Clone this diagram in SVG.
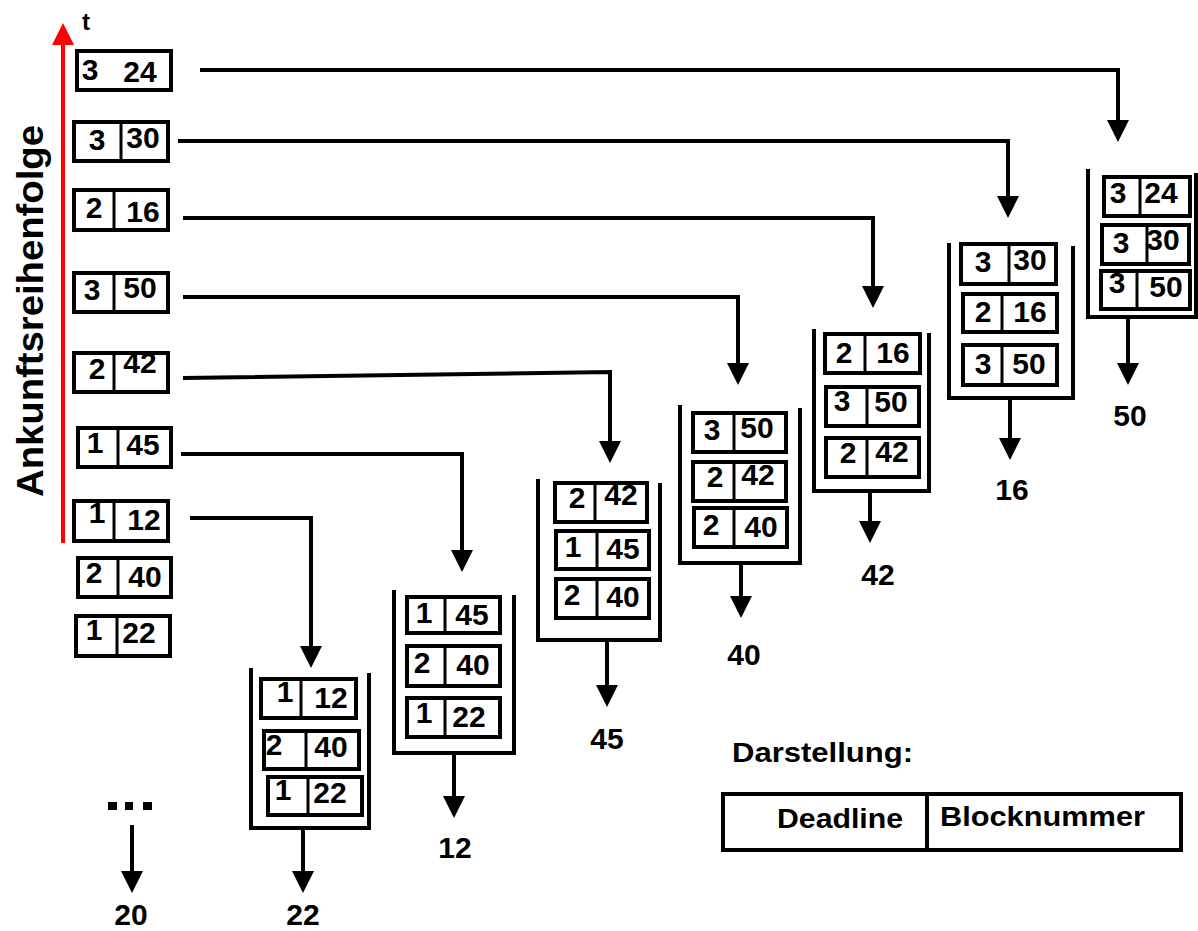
<svg xmlns="http://www.w3.org/2000/svg" width="1198" height="931" viewBox="0 0 1198 931">
  <style>
    .box { fill: #fff; stroke: #000; stroke-width: 4; }
    .sep { stroke: #000; stroke-width: 3; }
    .num { font-family: "Liberation Sans", Arial, sans-serif; font-weight: bold; font-size: 30px; text-anchor: middle; fill: #000; }
    .lbl { font-family: "Liberation Sans", Arial, sans-serif; font-weight: bold; font-size: 28px; fill: #000; }
    .arrow { fill: none; stroke: #000; stroke-width: 4; marker-end: url(#head); }
    .queue { fill: none; stroke: #000; stroke-width: 4; }
  </style>
  <defs>
    <marker id="head" markerUnits="userSpaceOnUse" markerWidth="24" markerHeight="24" refX="10" refY="11" orient="auto">
      <path d="M0,0 L22,11 L0,22 z" fill="#000"/>
    </marker>
    <marker id="headRed" markerUnits="userSpaceOnUse" markerWidth="24" markerHeight="24" refX="10" refY="11" orient="auto">
      <path d="M0,0 L22,11 L0,22 z" fill="#f00"/>
    </marker>
  </defs>

  <rect width="1198" height="931" fill="#fff"/>

  <!-- time axis -->
  <g id="axis">
    <line x1="63" y1="543" x2="63" y2="35" stroke="#f00" stroke-width="4" marker-end="url(#headRed)"/>
    <text class="lbl" x="82" y="30" style="font-size:24px">t</text>
    <text class="lbl" transform="translate(43,311) rotate(-90)" text-anchor="middle" style="font-size:37px" textLength="372" lengthAdjust="spacingAndGlyphs">Ankunftsreihenfolge</text>
  </g>

  <!-- arriving requests -->
  <g id="req-3-24">
    <rect class="box" x="77" y="51" width="94" height="39"/>
    <text class="num" x="90" y="80">3</text><text class="num" x="140" y="82">24</text>
  </g>
  <g id="req-3-30">
    <rect class="box" x="74" y="122" width="94" height="39"/><line class="sep" x1="121" y1="122" x2="121" y2="161"/>
    <text class="num" x="97" y="150">3</text><text class="num" x="143" y="148">30</text>
  </g>
  <g id="req-2-16">
    <rect class="box" x="74" y="190" width="94" height="40"/><line class="sep" x1="114" y1="190" x2="114" y2="230"/>
    <text class="num" x="94" y="218">2</text><text class="num" x="143" y="222">16</text>
  </g>
  <g id="req-3-50">
    <rect class="box" x="74" y="273" width="94" height="39"/><line class="sep" x1="114" y1="273" x2="114" y2="312"/>
    <text class="num" x="92" y="300">3</text><text class="num" x="140" y="298">50</text>
  </g>
  <g id="req-2-42">
    <rect class="box" x="74" y="353" width="94" height="39"/><line class="sep" x1="114" y1="353" x2="114" y2="392"/>
    <text class="num" x="97" y="379">2</text><text class="num" x="140" y="373">42</text>
  </g>
  <g id="req-1-45">
    <rect class="box" x="78" y="428" width="93" height="39"/><line class="sep" x1="118" y1="428" x2="118" y2="467"/>
    <text class="num" x="95" y="453">1</text><text class="num" x="143" y="455">45</text>
  </g>
  <g id="req-1-12">
    <rect class="box" x="74" y="501" width="94" height="40"/><line class="sep" x1="114" y1="501" x2="114" y2="541"/>
    <text class="num" x="97" y="523">1</text><text class="num" x="144" y="530">12</text>
  </g>
  <g id="req-2-40">
    <rect class="box" x="78" y="558" width="93" height="39"/><line class="sep" x1="118" y1="558" x2="118" y2="597"/>
    <text class="num" x="94" y="583">2</text><text class="num" x="145" y="587">40</text>
  </g>
  <g id="req-1-22">
    <rect class="box" x="76" y="616" width="94" height="40"/><line class="sep" x1="117" y1="616" x2="117" y2="656"/>
    <text class="num" x="94" y="640">1</text><text class="num" x="139" y="643">22</text>
  </g>

  <!-- queue snapshots -->
  <g id="queue-1">
    <path class="queue" d="M251,668 V828 H369 V673"/>
    <rect class="box" x="261" y="679" width="95" height="39"/><line class="sep" x1="301" y1="679" x2="301" y2="718"/>
    <text class="num" x="285" y="702">1</text><text class="num" x="331" y="708">12</text>
    <rect class="box" x="264" y="731" width="95" height="38"/><line class="sep" x1="306" y1="731" x2="306" y2="769"/>
    <text class="num" x="274" y="755">2</text><text class="num" x="331" y="757">40</text>
    <rect class="box" x="268" y="777" width="94" height="38"/><line class="sep" x1="308" y1="777" x2="308" y2="815"/>
    <text class="num" x="283" y="800">1</text><text class="num" x="330" y="803">22</text>
  </g>
  <g id="queue-2">
    <path class="queue" d="M394,590 V753 H514 V595"/>
    <rect class="box" x="407" y="597" width="93" height="36"/><line class="sep" x1="445" y1="597" x2="445" y2="633"/>
    <text class="num" x="424" y="623">1</text><text class="num" x="472" y="625">45</text>
    <rect class="box" x="407" y="646" width="93" height="40"/><line class="sep" x1="445" y1="646" x2="445" y2="686"/>
    <text class="num" x="422" y="673">2</text><text class="num" x="473" y="675">40</text>
    <rect class="box" x="407" y="698" width="93" height="39"/><line class="sep" x1="445" y1="698" x2="445" y2="737"/>
    <text class="num" x="424" y="723">1</text><text class="num" x="469" y="727">22</text>
  </g>
  <g id="queue-3">
    <path class="queue" d="M538,479 V640 H660 V483"/>
    <rect class="box" x="555" y="483" width="92" height="39"/><line class="sep" x1="595" y1="483" x2="595" y2="522"/>
    <text class="num" x="577" y="508">2</text><text class="num" x="621" y="505">42</text>
    <rect class="box" x="556" y="531" width="93" height="38"/><line class="sep" x1="597" y1="531" x2="597" y2="569"/>
    <text class="num" x="573" y="557">1</text><text class="num" x="623" y="559">45</text>
    <rect class="box" x="556" y="579" width="93" height="39"/><line class="sep" x1="597" y1="579" x2="597" y2="618"/>
    <text class="num" x="572" y="605">2</text><text class="num" x="623" y="607">40</text>
  </g>
  <g id="queue-4">
    <path class="queue" d="M680,405 V563 H800 V408"/>
    <rect class="box" x="693" y="413" width="93" height="39"/><line class="sep" x1="734" y1="413" x2="734" y2="452"/>
    <text class="num" x="712" y="440">3</text><text class="num" x="757" y="438">50</text>
    <rect class="box" x="693" y="462" width="93" height="39"/><line class="sep" x1="734" y1="462" x2="734" y2="501"/>
    <text class="num" x="715" y="487">2</text><text class="num" x="758" y="485">42</text>
    <rect class="box" x="694" y="508" width="93" height="39"/><line class="sep" x1="734" y1="508" x2="734" y2="547"/>
    <text class="num" x="711" y="535">2</text><text class="num" x="761" y="537">40</text>
  </g>
  <g id="queue-5">
    <path class="queue" d="M814,329 V491 H929 V333"/>
    <rect class="box" x="825" y="334" width="95" height="39"/><line class="sep" x1="865" y1="334" x2="865" y2="373"/>
    <text class="num" x="844" y="363">2</text><text class="num" x="893" y="363">16</text>
    <rect class="box" x="826" y="387" width="93" height="39"/><line class="sep" x1="867" y1="387" x2="867" y2="426"/>
    <text class="num" x="842" y="411">3</text><text class="num" x="891" y="412">50</text>
    <rect class="box" x="826" y="438" width="93" height="39"/><line class="sep" x1="867" y1="438" x2="867" y2="477"/>
    <text class="num" x="848" y="463">2</text><text class="num" x="892" y="462">42</text>
  </g>
  <g id="queue-6">
    <path class="queue" d="M949,243 V398 H1073 V246"/>
    <rect class="box" x="961" y="244" width="95" height="40"/><line class="sep" x1="1009" y1="244" x2="1009" y2="284"/>
    <text class="num" x="983" y="272">3</text><text class="num" x="1030" y="270">30</text>
    <rect class="box" x="963" y="294" width="94" height="38"/><line class="sep" x1="1002" y1="294" x2="1002" y2="332"/>
    <text class="num" x="983" y="322">2</text><text class="num" x="1030" y="322">16</text>
    <rect class="box" x="963" y="345" width="94" height="40"/><line class="sep" x1="1002" y1="345" x2="1002" y2="385"/>
    <text class="num" x="983" y="374">3</text><text class="num" x="1029" y="374">50</text>
  </g>
  <g id="queue-7">
    <path class="queue" d="M1088,169 V317 H1196 V173"/>
    <rect class="box" x="1104" y="177" width="86" height="39"/><line class="sep" x1="1140" y1="177" x2="1140" y2="216"/>
    <text class="num" x="1118" y="203">3</text><text class="num" x="1161" y="203">24</text>
    <rect class="box" x="1102" y="225" width="87" height="39"/><line class="sep" x1="1147" y1="225" x2="1147" y2="264"/>
    <text class="num" x="1121" y="253">3</text><text class="num" x="1163" y="250">30</text>
    <rect class="box" x="1101" y="271" width="89" height="38"/><line class="sep" x1="1137" y1="271" x2="1137" y2="309"/>
    <text class="num" x="1117" y="293">3</text><text class="num" x="1166" y="297">50</text>
  </g>

  <!-- served blocks -->
  <g id="served">
    <rect x="108" y="802" width="9" height="8" fill="#000"/>
    <rect x="125" y="802" width="8" height="8" fill="#000"/>
    <rect x="143" y="802" width="9" height="8" fill="#000"/>
    <text class="num" x="131" y="925">20</text>
    <text class="num" x="303" y="925">22</text>
    <text class="num" x="455" y="858">12</text>
    <text class="num" x="607" y="749">45</text>
    <text class="num" x="744" y="665">40</text>
    <text class="num" x="878" y="585">42</text>
    <text class="num" x="1012" y="500">16</text>
    <text class="num" x="1130" y="426">50</text>
  </g>

  <!-- connectors -->
  <g id="connectors">
    <path class="arrow" d="M200,70 H1118 V130"/>
    <path class="arrow" d="M178,141 H1008 V206"/>
    <path class="arrow" d="M183,218 H873 V296"/>
    <path class="arrow" d="M183,297 H738 V373"/>
    <path class="arrow" d="M183,378 L610,372 V451"/>
    <path class="arrow" d="M181,454 H462 V560"/>
    <path class="arrow" d="M190,518 H311 V656"/>
    <path class="arrow" d="M132,825 V881"/>
    <path class="arrow" d="M303,828 V881"/>
    <path class="arrow" d="M454,753 V806"/>
    <path class="arrow" d="M607,640 V695"/>
    <path class="arrow" d="M741,563 V606"/>
    <path class="arrow" d="M870,491 V531"/>
    <path class="arrow" d="M1010,398 V448"/>
    <path class="arrow" d="M1128,317 V373"/>
  </g>

  <!-- legend -->
  <g id="legend">
    <text class="lbl" x="732" y="762" textLength="181" lengthAdjust="spacingAndGlyphs">Darstellung:</text>
    <rect class="box" x="723" y="794" width="458" height="56"/>
    <line class="sep" x1="927" y1="794" x2="927" y2="850" style="stroke-width:4"/>
    <text class="lbl" x="777" y="828" textLength="126" lengthAdjust="spacingAndGlyphs">Deadline</text>
    <text class="lbl" x="940" y="826" textLength="205" lengthAdjust="spacingAndGlyphs">Blocknummer</text>
  </g>
</svg>
